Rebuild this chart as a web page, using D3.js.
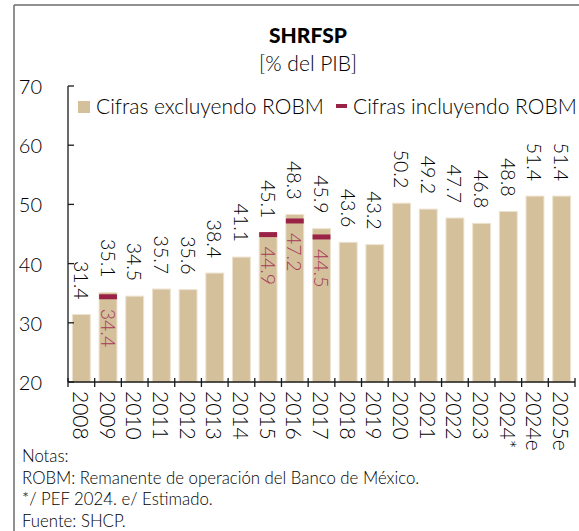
<!DOCTYPE html>
<html>
<head>
<meta charset="utf-8">
<script src="https://cdn.jsdelivr.net/npm/d3@7"></script>
<style>
  body { margin: 0; background: #fff; }
  text { font-family: Lato, "Open Sans", sans-serif; font-weight: 300; fill: #000; }
  .frame { stroke: #6b6b6b; stroke-width: 1.5; }
  .axis-line { stroke: #1a1a1a; stroke-width: 1.3; }
</style>
</head>
<body>
<div id="wrapper"></div>
<script>
// data
const years = ["2008", "2009", "2010", "2011", "2012", "2013", "2014", "2015", "2016", "2017",
  "2018", "2019", "2020", "2021", "2022", "2023", "2024*", "2024e", "2025e"]
const sinRobm = [31.4, 35.1, 34.5, 35.7, 35.6, 38.4, 41.1, 45.1, 48.3, 45.9,
  43.6, 43.2, 50.2, 49.2, 47.7, 46.8, 48.8, 51.4, 51.4]
const robmYears = ["2009", "2015", "2016", "2017"]
const conRobm = [34.4, 44.9, 47.2, 44.5]
const yTicks = [20, 30, 40, 50, 60, 70]
const notes = [
  "Notas:",
  "ROBM: Remanente de operación del Banco de México.",
  "*/ PEF 2024. e/ Estimado.",
  "Fuente: SHCP.",
]

function drawChart() {
  const dataset = years.map((year, i) => ({year, value: sinRobm[i]}))
  const robm = robmYears.map((year, i) => ({year, value: conRobm[i]}))

  let dimensions = {
    width: 579,
    height: 531,
    margin: {top: 86, right: 4, bottom: 149, left: 68},
  }
  dimensions.boundedWidth = dimensions.width - dimensions.margin.left - dimensions.margin.right
  dimensions.boundedHeight = dimensions.height - dimensions.margin.top - dimensions.margin.bottom

  const wrapper = d3.select("#wrapper")
    .append("svg")
      .attr("width", dimensions.width)
      .attr("height", dimensions.height)

  // frame lines top and left
  wrapper.append("line").attr("class", "frame")
    .attr("x1", 14).attr("x2", dimensions.width).attr("y1", 5).attr("y2", 5)
  wrapper.append("line").attr("class", "frame")
    .attr("x1", 14).attr("x2", 14).attr("y1", 5).attr("y2", dimensions.height)

  // title
  wrapper.append("text")
    .attr("x", 308).attr("y", 43)
    .attr("text-anchor", "middle")
    .style("font-size", "21px").style("font-weight", 900)
    .text("SHRFSP")
  wrapper.append("text")
    .attr("x", 308).attr("y", 71)
    .attr("text-anchor", "middle")
    .style("font-size", "21px")
    .text("[% del PIB]")

  const bounds = wrapper.append("g")
    .attr("transform", `translate(${dimensions.margin.left}, ${dimensions.margin.top})`)

  const xScale = d3.scaleBand()
    .domain(years)
    .range([0, dimensions.boundedWidth])
    .paddingInner(0.33)
    .paddingOuter(0.165)

  const yScale = d3.scaleLinear()
    .domain([20, 70])
    .range([dimensions.boundedHeight, 0])

  // bars
  bounds.append("g").selectAll("rect")
    .data(dataset)
    .join("rect")
      .attr("x", d => xScale(d.year))
      .attr("y", d => yScale(d.value))
      .attr("width", xScale.bandwidth())
      .attr("height", d => dimensions.boundedHeight - yScale(d.value))
      .attr("fill", "#d4c19c")
      .attr("stroke", "#ece2cf")
      .attr("stroke-width", 1)

  // ROBM markers
  bounds.append("g").selectAll("rect")
    .data(robm)
    .join("rect")
      .attr("x", d => xScale(d.year))
      .attr("y", d => yScale(d.value) - 2.5)
      .attr("width", xScale.bandwidth())
      .attr("height", 5)
      .attr("fill", "#9b2247")

  const cx = d => xScale(d.year) + xScale.bandwidth() / 2

  // value labels (rotated)
  bounds.append("g").selectAll("text")
    .data(dataset)
    .join("text")
      .attr("transform", d => `translate(${cx(d)}, ${yScale(d.value) - 15}) rotate(90)`)
      .attr("text-anchor", "end")
      .attr("dominant-baseline", "central")
      .style("font-size", "19.5px")
      .text(d => d.value.toFixed(1))

  bounds.append("g").selectAll("text")
    .data(robm)
    .join("text")
      .attr("transform", d => `translate(${cx(d)}, ${yScale(d.value) + 12}) rotate(90)`)
      .attr("text-anchor", "start")
      .attr("dominant-baseline", "central")
      .style("font-size", "19.5px")
      .style("fill", "#a83a5a")
      .text(d => d.value.toFixed(1))

  // y axis
  const yAxis = bounds.append("g")
  yAxis.append("line").attr("class", "axis-line")
    .attr("x1", 0).attr("x2", 0).attr("y1", 0).attr("y2", dimensions.boundedHeight)
  yTicks.forEach(t => {
    yAxis.append("line").attr("class", "axis-line")
      .attr("x1", 0).attr("x2", 6).attr("y1", yScale(t)).attr("y2", yScale(t))
    yAxis.append("text")
      .attr("x", -26).attr("y", yScale(t))
      .attr("text-anchor", "end")
      .attr("dominant-baseline", "central")
      .style("font-size", "20px")
      .text(t)
  })

  // x axis, ticks sit between the bars
  const step = xScale.step()
  const xAxis = bounds.append("g")
    .attr("transform", `translate(0, ${dimensions.boundedHeight})`)
  xAxis.append("line").attr("class", "axis-line")
    .attr("x1", 0).attr("x2", dimensions.boundedWidth)
  const edges = years.map(y => xScale(y) - step * xScale.paddingInner() / 2)
  edges.push(dimensions.boundedWidth)
  xAxis.selectAll(".tick")
    .data(edges)
    .join("line")
      .attr("class", "axis-line")
      .attr("x1", d => d).attr("x2", d => d)
      .attr("y1", -4).attr("y2", 5)
  xAxis.selectAll(".year")
    .data(dataset)
    .join("text")
      .attr("transform", d => `translate(${cx(d)}, 9) rotate(90)`)
      .attr("dominant-baseline", "central")
      .style("font-size", "21px")
      .text(d => d.year)

  // legend
  const legend = wrapper.append("g")
  legend.append("rect")
    .attr("x", 78).attr("y", 101).attr("width", 12).attr("height", 12)
    .attr("fill", "#d4c19c")
  legend.append("text")
    .attr("x", 96).attr("y", 114)
    .style("font-size", "21px")
    .text("Cifras excluyendo ROBM")
  legend.append("rect")
    .attr("x", 336).attr("y", 104).attr("width", 11).attr("height", 4)
    .attr("fill", "#9b2247")
  legend.append("text")
    .attr("x", 353).attr("y", 114)
    .style("font-size", "21px")
    .text("Cifras incluyendo ROBM")

  // notes
  wrapper.append("g").selectAll("text")
    .data(notes)
    .join("text")
      .attr("x", 22)
      .attr("y", (d, i) => 462 + i * 21.7)
      .style("font-size", "16.8px")
      .text(d => d)
}
drawChart()
</script>
</body>
</html>
